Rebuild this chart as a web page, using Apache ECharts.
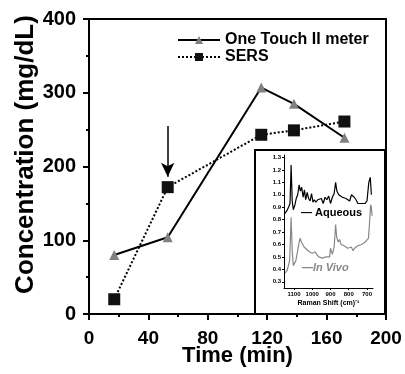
<!DOCTYPE html>
<html><head><meta charset="utf-8">
<script src="https://cdn.jsdelivr.net/npm/echarts@6/dist/echarts.min.js"></script>
<style>html,body{margin:0;padding:0;background:#fff}#c{width:405px;height:374px}</style>
</head><body><div id="c"></div>
<script>
// Main chart data
const timeMin = [17, 53, 116, 138, 172];
const oneTouch = [80, 104, 307, 285, 239];
const sers = [20, 172, 243, 249, 261];
const xTicks = [0, 40, 80, 120, 160, 200];
const yTicks = [0, 100, 200, 300, 400];
const arrowX = 53, arrowFrom = 255, arrowTo = 186;

// Inset spectra (Raman shift cm^-1, normalized intensity)
const aqShift = [1150,1140,1130,1122,1116,1110,1104,1095,1088,1080,1072,1065,1058,1050,1043,1036,1028,1020,1012,1004,996,988,980,970,960,950,940,930,920,910,900,890,880,872,865,855,845,835,825,815,805,795,785,778,770,760,750,740,730,720,710,700,690,682,676];
const aqInt = [0.85,0.87,0.90,0.93,1.24,0.95,0.88,0.92,0.97,1.00,1.08,1.03,1.06,0.98,1.04,0.96,1.02,0.97,0.95,1.01,0.94,0.96,0.94,0.96,0.95,0.97,0.93,0.98,0.96,0.99,0.93,0.98,1.01,1.10,1.03,1.00,0.99,0.98,0.97,0.97,0.96,0.95,1.00,1.01,0.98,0.96,0.93,0.92,0.93,0.92,0.93,0.95,1.10,1.14,1.00];
const ivShift = [1150,1146,1138,1131,1124,1116,1110,1104,1098,1090,1080,1072,1066,1060,1052,1045,1038,1030,1022,1015,1008,1000,992,985,975,965,955,945,935,925,915,905,900,890,880,872,866,858,850,842,835,826,816,806,796,786,776,768,761,750,740,730,720,710,700,692,687,680,676,672];
const ivInt = [0.37,0.37,0.39,0.40,0.47,0.82,0.55,0.43,0.42,0.47,0.55,0.62,0.65,0.62,0.60,0.58,0.58,0.56,0.57,0.54,0.55,0.53,0.52,0.54,0.52,0.50,0.51,0.49,0.50,0.50,0.49,0.50,0.57,0.52,0.58,0.76,0.66,0.62,0.64,0.60,0.61,0.59,0.58,0.57,0.56,0.58,0.55,0.57,0.58,0.59,0.60,0.60,0.61,0.62,0.63,0.65,0.75,0.92,0.90,0.83];
const insetXTicks = [700, 800, 900, 1000, 1100];
const insetYTicks = [0.3,0.4,0.5,0.6,0.7,0.8,0.9,1.0,1.1,1.2,1.3];

const F = 'Liberation Sans, Arial, sans-serif';
const chart = echarts.init(document.getElementById('c'), null, {renderer:'canvas'});
chart.setOption({
  animation:false,
  backgroundColor:'#fff',
  grid:[
    {left:89, right:19, top:19, bottom:60, show:true, borderColor:'#000', borderWidth:2, outerBoundsMode:'none', containLabel:false},
    {left:284, right:32, top:155, bottom:86, outerBoundsMode:'none', containLabel:false}
  ],
  legend:{
    data:['One Touch II meter','SERS'], orient:'vertical', left:172, top:27,
    itemWidth:42, itemHeight:10, itemGap:1,
    textStyle:{fontFamily:F, fontWeight:'bold', fontSize:16, color:'#000'}
  },
  xAxis:[
    {gridIndex:0, type:'value', min:0, max:200, interval:40,
     name:'Time (min)', nameLocation:'middle', nameGap:31, nameMoveOverlap:false,
     nameTextStyle:{fontFamily:F, fontWeight:'bold', fontSize:22, color:'#000'},
     axisLine:{lineStyle:{color:'#000', width:2}},
     axisTick:{length:6, lineStyle:{color:'#000', width:2}},
     minorTick:{show:true, splitNumber:2, length:3, lineStyle:{color:'#000', width:2}},
     axisLabel:{fontFamily:F, fontWeight:'bold', fontSize:19, color:'#000', margin:15},
     splitLine:{show:false}},
    {gridIndex:1, type:'value', min:667, max:1155, inverse:true, z:20,
     name:'Raman Shift (cm)\u207B\u00B9', nameLocation:'middle', nameGap:12,
     nameTextStyle:{fontFamily:F, fontWeight:'bold', fontSize:7, color:'#000'},
     axisLine:{show:true, onZero:false, lineStyle:{color:'#000', width:1}},
     axisTick:{show:true, length:2, customValues:insetXTicks, lineStyle:{color:'#000'}},
     axisLabel:{show:true, customValues:insetXTicks, fontFamily:F, fontWeight:'bold', fontSize:6, color:'#000', margin:3,
       formatter:v=>String(v)},
     splitLine:{show:false}}
  ],
  yAxis:[
    {gridIndex:0, type:'value', min:0, max:400, interval:100,
     name:'Concentration (mg/dL)', nameLocation:'middle', nameGap:50, nameMoveOverlap:false,
     nameTextStyle:{fontFamily:F, fontWeight:'bold', fontSize:26, color:'#000', padding:[0,0,0,24]},
     axisLine:{lineStyle:{color:'#000', width:2}},
     axisTick:{length:6, lineStyle:{color:'#000', width:2}},
     minorTick:{show:true, splitNumber:2, length:3, lineStyle:{color:'#000', width:2}},
     axisLabel:{fontFamily:F, fontWeight:'bold', fontSize:20, color:'#000', margin:13},
     splitLine:{show:false}},
    {gridIndex:1, type:'value', min:0.25, max:1.32, z:20,
     axisLine:{show:true, onZero:false, lineStyle:{color:'#000', width:1}},
     axisTick:{show:true, length:2, customValues:insetYTicks, lineStyle:{color:'#000'}},
     axisLabel:{show:true, customValues:insetYTicks, fontFamily:F, fontWeight:'bold', fontSize:6, color:'#000', margin:3,
       formatter:v=>v.toFixed(1)},
     splitLine:{show:false}}
  ],
  graphic:[
    {type:'rect', z:-10, silent:true, shape:{x:255, y:150, width:130, height:164}, style:{fill:'#fff', stroke:'#000', lineWidth:2}},
    {type:'text', z:100, left:301, top:207, style:{text:'\u2014 Aqueous', font:'bold 11px '+F, fill:'#000'}},
    {type:'text', z:100, left:302, top:262, style:{text:'\u2014In Vivo', font:'italic bold 11px '+F, fill:'#888'}}
  ],
  series:[
    {name:'One Touch II meter', type:'line', xAxisIndex:0, yAxisIndex:0,
     data:timeMin.map((t,i)=>[t,oneTouch[i]]),
     symbol:'triangle', symbolSize:10,
     itemStyle:{color:'#808080'}, lineStyle:{color:'#000', width:2, type:'solid'}, z:3},
    {name:'SERS', type:'line', xAxisIndex:0, yAxisIndex:0,
     data:timeMin.map((t,i)=>[t,sers[i]]),
     symbol:'rect', symbolSize:12,
     itemStyle:{color:'#111'}, lineStyle:{color:'#000', width:2, type:'dotted'}, z:4,
     markLine:{silent:true, symbol:['none','arrow'], symbolSize:[10,14],
       label:{show:false}, lineStyle:{color:'#000', width:1.5, type:'solid'},
       data:[[{coord:[arrowX,arrowFrom]},{coord:[arrowX,arrowTo]}]]}},
    {name:'Aqueous', type:'line', xAxisIndex:1, yAxisIndex:1, showSymbol:false, symbol:'none',
     data:aqShift.map((s,i)=>[s,aqInt[i]]), lineStyle:{color:'#000', width:1.2}, z:5},
    {name:'In Vivo', type:'line', xAxisIndex:1, yAxisIndex:1, showSymbol:false, symbol:'none',
     data:ivShift.map((s,i)=>[s,ivInt[i]]), lineStyle:{color:'#888', width:1.2}, z:5}
  ]
});
</script></body></html>
